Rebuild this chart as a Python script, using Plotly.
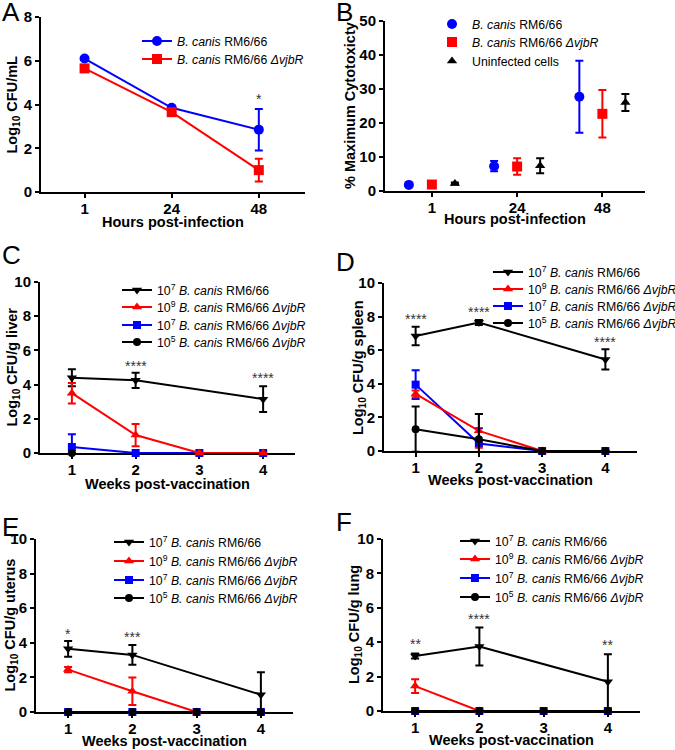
import plotly.graph_objects as go

# ---------------- DATA ----------------
# Panel A
A_HOURS = ["1", "24", "48"]
A_WT = [6.1, 3.85, 2.85]
A_WT_ERR = [0.05, 0.08, 0.95]
A_MUT = [5.65, 3.65, 1.0]
A_MUT_ERR = [0.05, 0.08, 0.52]
A_STARS = [("48", 4.25, "*")]

# Panel B
B_HOURS = ["1", "24", "48"]
B_WT = [1.8, 7.3, 27.7]
B_WT_ERR = [0.3, 1.5, 10.6]
B_MUT = [1.9, 7.2, 22.7]
B_MUT_ERR = [0.3, 2.4, 7.0]
B_UNINF = [2.2, 7.4, 26.0]
B_UNINF_ERR = [0.3, 2.2, 2.5]

WEEKS = [1, 2, 3, 4]
# Panel C (liver)
C_WT7 = [4.4, 4.25, None, 3.15]
C_WT7_ERR = [0.5, 0.45, 0, 0.75]
C_M9 = [3.5, 1.05, 0, 0]
C_M9_ERR = [0.6, 0.65, 0, 0]
C_M7 = [0.35, 0, 0, 0]
C_M7_ERR = [0.75, 0, 0, 0]
C_M5 = [0, None, None, None]
C_M5_ERR = [0, 0, 0, 0]
C_STARS = [(2, 5.1, "****"), (4, 4.4, "****")]

# Panel D (spleen)
D_WT7 = [6.85, 7.65, None, 5.45]
D_WT7_ERR = [0.55, 0.15, 0, 0.6]
D_M9 = [3.4, 1.2, 0, None]
D_M9_ERR = [0.2, 1.0, 0, 0]
D_M7 = [3.95, 0.45, 0, 0]
D_M7_ERR = [0.85, 0.9, 0, 0]
D_M5 = [1.3, 0.7, 0, 0]
D_M5_ERR = [1.35, 1.5, 0, 0]
D_STARS = [(1, 7.85, "****"), (2, 8.3, "****"), (4, 6.5, "****")]

# Panel E (uterus)
E_WT7 = [3.65, 3.3, None, 1.0]
E_WT7_ERR = [0.45, 0.57, 0, 1.3]
E_M9 = [2.45, 1.2, 0, None]
E_M9_ERR = [0.15, 0.8, 0, 0]
E_M7 = [0, 0, 0, 0]
E_M7_ERR = [0, 0, 0, 0]
E_M5 = [0, 0, 0, 0]
E_M5_ERR = [0, 0, 0, 0]
E_STARS = [(1, 4.5, "*"), (2, 4.35, "***")]

# Panel F (lung)
F_WT7 = [3.2, 3.75, None, 1.7]
F_WT7_ERR = [0.15, 1.1, 0, 1.6]
F_M9 = [1.45, 0, None, None]
F_M9_ERR = [0.4, 0, 0, 0]
F_M7 = [0, 0, 0, 0]
F_M7_ERR = [0, 0, 0, 0]
F_M5 = [0, 0, 0, 0]
F_M5_ERR = [0, 0, 0, 0]
F_STARS = [(1, 3.9, "**"), (2, 5.35, "****"), (4, 3.85, "**")]

# Labels
LBL_WT = "<i>B. canis</i> RM6/66"
LBL_MUT = "<i>B. canis</i> RM6/66 <i>ΔvjbR</i>"
LBL_UNINF = "Uninfected cells"
LBL_WT7 = "10<sup>7</sup> <i>B. canis</i> RM6/66"
LBL_M9 = "10<sup>9</sup> <i>B. canis</i> RM6/66 <i>ΔvjbR</i>"
LBL_M7 = "10<sup>7</sup> <i>B. canis</i> RM6/66 <i>ΔvjbR</i>"
LBL_M5 = "10<sup>5</sup> <i>B. canis</i> RM6/66 <i>ΔvjbR</i>"

X_TITLES = {1: "Hours post-infection", 2: "Hours post-infection", 3: "Weeks post-vaccination",
            4: "Weeks post-vaccination", 5: "Weeks post-vaccination", 6: "Weeks post-vaccination"}
Y_TITLES = {
    1: "Log<sub>10</sub> CFU/mL",
    2: "% Maximum Cytotoxicty",
    3: "Log<sub>10</sub> CFU/g liver",
    4: "Log<sub>10</sub> CFU/g spleen",
    5: "Log<sub>10</sub> CFU/g uterus",
    6: "Log<sub>10</sub> CFU/g lung",
}

# ---------------- STYLE / LAYOUT ----------------
W, H = 675, 750
FONT = "Liberation Sans, Arial, sans-serif"
BLUE = "#0000FF"
RED = "#FF0000"
BLACK = "#000000"

BOXES = {  # plot area: left, right, top, bottom in px
    1: (41, 305, 17, 192),
    2: (385, 645, 21, 191),
    3: (40, 295, 282, 453),
    4: (384, 637, 283, 451),
    5: (36, 293, 539, 712),
    6: (383, 640, 539, 711),
}
# legend: text start x, row centre y's (px)
LEGS = {
    1: (177, [41, 59]),
    2: (472, [24, 42, 61]),
    3: (157, [290, 307, 325, 342]),
    4: (528, [272, 289, 306, 323]),
    5: (149, [542, 561, 580, 598]),
    6: (495, [541, 559, 578, 597]),
}
XTITLE_Y = {1: 222, 2: 219, 3: 484, 4: 480, 5: 741, 6: 740}
YTITLE_X = {1: 13, 2: 350, 3: 12, 4: 359, 5: 10, 6: 355}


def px_x(v):
    return v / W


def px_y(v):
    return 1 - v / H


fig = go.Figure()
legend_layouts = {}
leg_counter = [0]


def next_legend(panel, row):
    leg_counter[0] += 1
    k = leg_counter[0]
    name = "legend" if k == 1 else f"legend{k}"
    tx, rows = LEGS[panel]
    legend_layouts[name] = dict(x=px_x(tx - 40), y=px_y(rows[row]), xanchor="left", yanchor="middle",
                                bgcolor="rgba(0,0,0,0)", borderwidth=0,
                                font=dict(family=FONT, size=12.3, color=BLACK),
                                tracegroupgap=0, itemclick=False, itemdoubleclick=False)
    return name


def err(arr, color):
    return dict(type="data", array=arr, visible=True, thickness=2, width=4, color=color)


a_idx = list(range(len(A_HOURS)))
b_idx = list(range(len(B_HOURS)))

# Panel A
for row, (vals, errs, color, sym, name) in enumerate([
    (A_WT, A_WT_ERR, BLUE, "circle", LBL_WT),
    (A_MUT, A_MUT_ERR, RED, "square", LBL_MUT),
]):
    fig.add_trace(go.Scatter(x=a_idx, y=vals, error_y=err(errs, color), mode="lines+markers",
                             name=name, line=dict(color=color, width=2),
                             marker=dict(symbol=sym, size=10, color=color),
                             xaxis="x", yaxis="y", legend=next_legend(1, row), cliponaxis=False))

# Panel B (grouped points)
B_OFF = 0.27
for row, (vals, errs, color, sym, name, off) in enumerate([
    (B_WT, B_WT_ERR, BLUE, "circle", LBL_WT, -B_OFF),
    (B_MUT, B_MUT_ERR, RED, "square", LBL_MUT, 0.0),
    (B_UNINF, B_UNINF_ERR, BLACK, "triangle-up", LBL_UNINF, B_OFF),
]):
    fig.add_trace(go.Scatter(x=[i + off for i in b_idx], y=vals, error_y=err(errs, color),
                             mode="markers", name=name,
                             marker=dict(symbol=sym, size=10 if sym != "triangle-up" else 9, color=color),
                             xaxis="x2", yaxis="y2", legend=next_legend(2, row), cliponaxis=False))


def week_panel(n, wt, wt_e, m9, m9_e, m7, m7_e, m5, m5_e):
    ax = str(n)
    specs = [  # drawing order; row = legend row
        (wt, wt_e, BLACK, "triangle-down", 9, LBL_WT7, 0),
        (m7, m7_e, BLUE, "square", 8, LBL_M7, 2),
        (m9, m9_e, RED, "triangle-up", 9, LBL_M9, 1),
        (m5, m5_e, BLACK, "circle", 8, LBL_M5, 3),
    ]
    for vals, errs, color, sym, size, name, row in specs:
        fig.add_trace(go.Scatter(x=WEEKS, y=vals, error_y=err(errs, color), mode="lines+markers",
                                 name=name, connectgaps=True,
                                 line=dict(color=color, width=2),
                                 marker=dict(symbol=sym, size=size, color=color),
                                 xaxis="x" + ax, yaxis="y" + ax, legend=next_legend(n, row),
                                 cliponaxis=False))


week_panel(3, C_WT7, C_WT7_ERR, C_M9, C_M9_ERR, C_M7, C_M7_ERR, C_M5, C_M5_ERR)
week_panel(4, D_WT7, D_WT7_ERR, D_M9, D_M9_ERR, D_M7, D_M7_ERR, D_M5, D_M5_ERR)
week_panel(5, E_WT7, E_WT7_ERR, E_M9, E_M9_ERR, E_M7, E_M7_ERR, E_M5, E_M5_ERR)
week_panel(6, F_WT7, F_WT7_ERR, F_M9, F_M9_ERR, F_M7, F_M7_ERR, F_M5, F_M5_ERR)

TICKFONT = dict(family=FONT, size=15, color=BLACK, weight="bold")
TITLEFONT = dict(family=FONT, size=14.5, color=BLACK, weight="bold")


def axis_common():
    return dict(showline=True, linecolor=BLACK, linewidth=2, ticks="outside", ticklen=4,
                tickwidth=2, tickcolor=BLACK, showgrid=False, zeroline=False, automargin=False,
                tickfont=TICKFONT, layer="below traces")


layout = {}
annotations = []
for n, (l, r, t, b) in BOXES.items():
    ax = "" if n == 1 else str(n)
    xa = axis_common()
    ya = axis_common()
    xa.update(domain=[px_x(l), px_x(r)], anchor="y" + ax, ticklabelstandoff=-2)
    ya.update(domain=[px_y(b), px_y(t)], anchor="x" + ax)
    if n == 1:
        xa.update(range=[-0.5, 2.53], tickvals=a_idx, ticktext=A_HOURS)
        ya.update(range=[0, 8], dtick=2)
    elif n == 2:
        xa.update(range=[-0.55, 2.5], tickvals=b_idx, ticktext=B_HOURS)
        ya.update(range=[0, 50], dtick=10)
    else:
        xa.update(range=[0.5, 4.5], tickvals=WEEKS)
        ya.update(range=[0, 10], dtick=2)
    layout["xaxis" + ax] = xa
    layout["yaxis" + ax] = ya
    # axis titles
    annotations.append(dict(x=0.5, xref="x" + ax + " domain", y=px_y(XTITLE_Y[n]), yref="paper",
                            text=X_TITLES[n], showarrow=False, font=TITLEFONT,
                            xanchor="center", yanchor="middle"))
    annotations.append(dict(x=px_x(YTITLE_X[n]), xref="paper", y=0.5, yref="y" + ax + " domain",
                            text=Y_TITLES[n], showarrow=False, font=TITLEFONT, textangle=-90,
                            xanchor="center", yanchor="middle"))

for n, stars in [(1, A_STARS), (3, C_STARS), (4, D_STARS), (5, E_STARS), (6, F_STARS)]:
    ax = "" if n == 1 else str(n)
    for x, y, s in stars:
        xv = A_HOURS.index(x) if n == 1 else x
        annotations.append(dict(x=xv, y=y, xref="x" + ax, yref="y" + ax, text=s, showarrow=False,
                                font=dict(family=FONT, size=14, color="#333333"),
                                xanchor="center", yanchor="middle"))

PANEL_LABELS = [("A", 0, 12), ("B", 334, 12), ("C", 0, 255), ("D", 334, 262), ("E", 0, 527), ("F", 334, 522)]
for t, x, y in PANEL_LABELS:
    annotations.append(dict(x=px_x(x), y=px_y(y), xref="paper", yref="paper", text=t, showarrow=False,
                            font=dict(family=FONT, size=26, color=BLACK),
                            xanchor="left", yanchor="middle"))

layout.update(legend_layouts)
fig.update_layout(width=W, height=H, margin=dict(l=0, r=0, t=0, b=0, pad=0, autoexpand=False),
                  paper_bgcolor="white", plot_bgcolor="white", showlegend=True,
                  annotations=annotations, **layout)

fig.write_html("out.html", config={"displayModeBar": False},
               post_script="document.body.style.margin='0';document.body.style.overflow='hidden';")
